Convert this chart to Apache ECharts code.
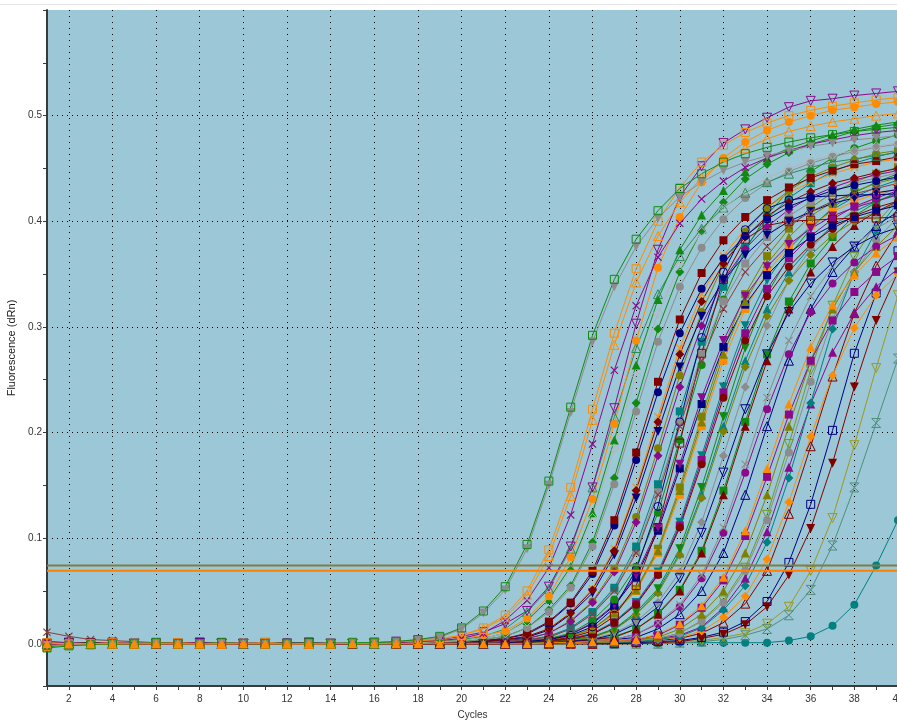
<!DOCTYPE html>
<html>
<head>
<meta charset="utf-8">
<script src="https://cdn.jsdelivr.net/npm/echarts@6/dist/echarts.min.js"></script>
<style>
  html, body { margin: 0; padding: 0; background: #ffffff; }
  #chart { width: 897px; height: 726px; }
</style>
</head>
<body>
<div id="chart"></div>
<script>
// Amplification plot: fluorescence (dRn) per cycle for each well.
const cycles = [1,2,3,4,5,6,7,8,9,10,11,12,13,14,15,16,17,18,19,20,21,22,23,24,25,26,27,28,29,30,31,32,33,34,35,36,37,38,39,40];
const xLabelCycles = [2,4,6,8,10,12,14,16,18,20,22,24,26,28,30,32,34,36,38,40];
const yLabelValues = [0.0,0.1,0.2,0.3,0.4,0.5];
const thresholds = [0.074, 0.069];

const w01 = [-0.004,-0.002,-0.001,0,0,0.001,0,0,0.001,0, 0,0,0.001,0,0.001,0.001,0.002,0.004,0.007,0.015, 0.031,0.054,0.094,0.154,0.224,0.292,0.345,0.383,0.410,0.431, 0.445,0.456,0.464,0.470,0.475,0.479,0.482,0.485,0.487,0.489];
const w02 = [-0.002,-0.001,0,0,0.001,0,0,0,0,0.001, 0,0,0,0.001,0.001,0.001,0.002,0.004,0.006,0.014, 0.029,0.051,0.090,0.150,0.219,0.286,0.338,0.376,0.403,0.423, 0.437,0.448,0.456,0.462,0.467,0.471,0.474,0.477,0.479,0.481];
const w03 = [0.001,0,0,0.001,0,0,0.001,0,0,0, 0.001,0,0,0,0.001,0.001,0.002,0.003,0.005,0.008, 0.015,0.027,0.050,0.089,0.148,0.222,0.294,0.355,0.400,0.432, 0.456,0.472,0.484,0.493,0.500,0.505,0.509,0.512,0.515,0.517];
const w04 = [-0.002,-0.001,0,0,0,0.001,0,0,0,0.001, 0,0,0,0,0.001,0.001,0.002,0.003,0.004,0.008, 0.014,0.025,0.046,0.083,0.140,0.212,0.283,0.342,0.386,0.418, 0.441,0.457,0.469,0.478,0.485,0.490,0.494,0.497,0.500,0.502];
const w05 = [0.002,0.001,0,0,0.001,0,0,0,0,0.001, 0,0,0,0.001,0,0.001,0.001,0.002,0.003,0.005, 0.010,0.022,0.041,0.072,0.122,0.189,0.259,0.320,0.366,0.398, 0.421,0.438,0.451,0.460,0.467,0.473,0.477,0.481,0.484,0.486];
const w06 = [-0.001,0,0,0.001,0,0,0,0.001,0,0, 0,0,0.001,0,0,0.001,0.002,0.003,0.004,0.007, 0.011,0.019,0.031,0.054,0.092,0.148,0.223,0.303,0.373,0.423, 0.452,0.474,0.487,0.498,0.508,0.514,0.516,0.519,0.521,0.523];
const w07 = [0.001,0,0,0,0.001,0,0,0,0.001,0, 0,0,0,0.001,0,0,0.001,0.002,0.003,0.005, 0.008,0.012,0.024,0.045,0.082,0.137,0.208,0.287,0.356,0.404, 0.437,0.460,0.475,0.486,0.494,0.500,0.505,0.508,0.511,0.513];
const w08 = [0,0.001,0,0,0,0.001,0,0,0,0, 0.001,0,0,0,0.001,0,0.001,0.001,0.002,0.003, 0.005,0.010,0.021,0.040,0.070,0.119,0.185,0.254,0.313,0.358, 0.390,0.412,0.429,0.441,0.450,0.457,0.463,0.467,0.471,0.474];
const w09 = [-0.003,-0.001,0,0,0.001,0,0,0,0.001,0, 0,0,0,0.001,0,0,0.001,0.001,0.002,0.003, 0.005,0.010,0.022,0.042,0.073,0.124,0.193,0.264,0.326,0.373, 0.406,0.429,0.447,0.460,0.469,0.476,0.482,0.487,0.491,0.494];
const w10 = [0.001,0,0,0,0,0.001,0,0,0,0.001, 0,0,0,0,0.001,0,0.001,0.001,0.002,0.004, 0.007,0.014,0.030,0.052,0.090,0.148,0.215,0.280,0.331,0.367, 0.393,0.413,0.427,0.437,0.445,0.451,0.456,0.459,0.462,0.465];
const w11 = [-0.001,0,0,0.001,0,0,0,0,0.001,0, 0,0,0.001,0,0,0,0,0.001,0.001,0.002, 0.004,0.007,0.015,0.030,0.053,0.092,0.151,0.220,0.286,0.338, 0.375,0.402,0.422,0.436,0.447,0.455,0.461,0.466,0.470,0.473];
const w12 = [0.002,0.001,0,0,0,0,0.001,0,0,0, 0,0.001,0,0,0,0.001,0,0.001,0.001,0.002, 0.004,0.007,0.015,0.032,0.055,0.096,0.157,0.228,0.298,0.352, 0.391,0.418,0.440,0.454,0.465,0.473,0.479,0.485,0.489,0.492];
const w13 = [0,0.001,0,0,0.001,0,0,0,0,0.001, 0,0,0,0,0,0.001,0,0,0.001,0.002, 0.003,0.005,0.010,0.021,0.039,0.069,0.117,0.181,0.248,0.307, 0.351,0.382,0.404,0.420,0.432,0.441,0.448,0.454,0.457,0.461];
const w14 = [-0.002,-0.001,0,0,0,0.001,0,0,0,0, 0,0.001,0,0,0,0,0.001,0,0.001,0.002, 0.003,0.005,0.009,0.020,0.038,0.066,0.112,0.174,0.238,0.294, 0.336,0.365,0.386,0.402,0.414,0.422,0.429,0.434,0.438,0.442];
const w15 = [0.001,0,0,0,0,0,0.001,0,0,0, 0.001,0,0,0,0,0,0.001,0,0.001,0.001, 0.002,0.004,0.007,0.014,0.029,0.051,0.088,0.145,0.210,0.274, 0.324,0.360,0.385,0.405,0.418,0.428,0.436,0.441,0.446,0.450];
const w16 = [-0.001,0,0,0.001,0,0,0,0.001,0,0, 0,0,0.001,0,0,0,0,0.001,0.001,0.001, 0.002,0.004,0.006,0.013,0.028,0.048,0.084,0.138,0.201,0.262, 0.310,0.344,0.368,0.387,0.400,0.409,0.417,0.422,0.427,0.430];
const w17 = [0,0.001,0,0,0,0.001,0,0,0,0.001, 0,0,0,0,0,0.001,0,0,0,0.001, 0.002,0.003,0.005,0.010,0.021,0.039,0.068,0.115,0.178,0.243, 0.301,0.344,0.374,0.395,0.411,0.423,0.432,0.439,0.444,0.448];
const w18 = [-0.001,0,0,0,0.001,0,0,0,0,0.001, 0,0,0,0.001,0,0,0,0,0.001,0.001, 0.002,0.003,0.005,0.010,0.022,0.040,0.071,0.120,0.185,0.254, 0.314,0.359,0.390,0.413,0.429,0.442,0.451,0.458,0.464,0.467];
const w19 = [0.001,0,0,0,0.001,0,0,0,0,0, 0.001,0,0,0,0.001,0,0,0,0.001,0.001, 0.002,0.004,0.007,0.014,0.030,0.052,0.090,0.148,0.215,0.280, 0.331,0.367,0.393,0.413,0.427,0.437,0.445,0.451,0.456,0.459];
const w20 = [0,0,0.001,0,0,0,0,0.001,0,0, 0,0.001,0,0,0,0,0.001,0,0,0.001, 0.001,0.002,0.004,0.007,0.015,0.030,0.053,0.092,0.151,0.220, 0.286,0.338,0.375,0.402,0.422,0.436,0.447,0.455,0.461,0.466];
const w21 = [-0.002,-0.001,0,0,0,0,0.001,0,0,0, 0,0.001,0,0,0,0,0,0.001,0,0.001, 0.001,0.002,0.004,0.007,0.014,0.029,0.051,0.088,0.145,0.210, 0.274,0.324,0.360,0.385,0.405,0.418,0.428,0.436,0.441,0.446];
const w22 = [0.001,0,0,0,0,0.001,0,0,0,0.001, 0,0,0,0,0.001,0,0,0,0,0, 0.001,0.002,0.003,0.005,0.010,0.022,0.042,0.073,0.124,0.193, 0.264,0.326,0.373,0.406,0.429,0.447,0.460,0.469,0.476,0.482];
const w23 = [0,0,0,0.001,0,0,0,0,0.001,0, 0,0,0.001,0,0,0,0,0.001,0,0, 0.001,0.002,0.003,0.004,0.009,0.020,0.037,0.065,0.110,0.170, 0.233,0.287,0.329,0.357,0.378,0.393,0.405,0.413,0.419,0.425];
const w24 = [0.001,0.001,0,0,0,0,0,0.001,0,0, 0,0,0.001,0,0,0,0,0,0.001,0, 0.001,0.001,0.002,0.004,0.007,0.014,0.029,0.051,0.088,0.145, 0.210,0.274,0.324,0.360,0.385,0.405,0.418,0.428,0.436,0.441];
const w25 = [0,0,0.001,0,0,0,0,0,0.001,0, 0,0,0,0.001,0,0,0,0,0,0.001, 0.001,0.002,0.003,0.004,0.009,0.019,0.036,0.063,0.107,0.166, 0.227,0.281,0.321,0.349,0.370,0.385,0.396,0.404,0.410,0.415];
const w26 = [0.001,0,0,0,0.001,0,0,0,0,0, 0.001,0,0,0,0,0.001,0,0,0,0, 0,0.001,0.002,0.003,0.004,0.009,0.020,0.037,0.065,0.110, 0.170,0.233,0.287,0.329,0.357,0.378,0.393,0.405,0.413,0.419];
const w27 = [-0.001,0,0,0,0,0.001,0,0,0,0, 0,0.001,0,0,0,0,0.001,0,0,0, 0,0.001,0.002,0.003,0.005,0.009,0.020,0.038,0.066,0.112, 0.174,0.238,0.294,0.336,0.365,0.386,0.402,0.414,0.422,0.429];
const w28 = [0,0.001,0,0,0,0,0.001,0,0,0, 0,0,0.001,0,0,0,0,0.001,0,0, 0.001,0.001,0.002,0.004,0.006,0.014,0.028,0.050,0.086,0.141, 0.206,0.268,0.317,0.352,0.376,0.396,0.409,0.419,0.426,0.431];
const w29 = [0,0,0,0.001,0,0,0,0.001,0,0, 0,0,0,0.001,0,0,0,0,0.001,0, 0,0.001,0.002,0.003,0.005,0.010,0.021,0.039,0.068,0.115, 0.178,0.243,0.301,0.344,0.374,0.395,0.411,0.423,0.432,0.439];
const w30 = [-0.001,0,0,0,0.001,0,0,0,0,0.001, 0,0,0,0,0,0.001,0,0,0,0, 0,0.001,0.001,0.002,0.004,0.007,0.014,0.030,0.052,0.090, 0.148,0.215,0.280,0.331,0.367,0.393,0.413,0.427,0.437,0.445];
const w31 = [0.001,0,0,0,0,0,0.001,0,0,0, 0,0.001,0,0,0,0,0,0.001,0,0, 0,0.001,0.001,0.002,0.004,0.006,0.013,0.028,0.048,0.084, 0.138,0.201,0.262,0.310,0.344,0.368,0.387,0.400,0.409,0.417];
const w32 = [0,0.001,0,0,0,0,0,0.001,0,0, 0,0,0.001,0,0,0,0,0,0.001,0, 0,0,0.001,0.002,0.003,0.004,0.009,0.019,0.035,0.062, 0.105,0.162,0.222,0.274,0.314,0.341,0.361,0.376,0.387,0.394];
const w33 = [0.001,0,0,0,0,0.001,0,0,0,0, 0.001,0,0,0,0,0,0.001,0,0,0, 0,0,0.001,0.002,0.003,0.005,0.010,0.021,0.039,0.068, 0.115,0.178,0.243,0.301,0.344,0.374,0.395,0.411,0.423,0.432];
const w34 = [0,0,0.001,0,0,0,0,0,0.001,0, 0,0,0,0.001,0,0,0,0,0,0.001, 0,0,0.001,0.001,0.002,0.004,0.006,0.014,0.028,0.050, 0.086,0.141,0.206,0.268,0.317,0.352,0.376,0.396,0.409,0.419];
const w35 = [-0.002,-0.001,0,0,0,0,0.001,0,0,0, 0,0,0.001,0,0,0,0,0.001,0,0, 0,0,0.001,0.001,0.002,0.004,0.007,0.014,0.029,0.051, 0.088,0.145,0.210,0.274,0.324,0.360,0.385,0.405,0.418,0.428];
const w36 = [0,0,0,0.001,0,0,0,0,0.001,0, 0,0,0,0,0.001,0,0,0,0,0, 0.001,0.001,0.002,0.004,0.007,0.014,0.030,0.052,0.090,0.148, 0.215,0.280,0.331,0.367,0.393,0.413,0.427,0.437,0.445,0.451];
const w37 = [0,0.001,0,0,0,0,0,0.001,0,0, 0,0,0.001,0,0,0,0,0,0,0.001, 0,0.001,0.001,0.002,0.004,0.006,0.014,0.028,0.050,0.086, 0.141,0.206,0.268,0.317,0.352,0.376,0.396,0.409,0.419,0.426];
const w38 = [0,0,0,0.001,0,0,0,0,0,0.001, 0,0,0,0,0.001,0,0,0,0,0, 0.001,0,0,0.001,0.002,0.003,0.004,0.009,0.020,0.037, 0.065,0.110,0.170,0.233,0.287,0.329,0.357,0.378,0.393,0.405];
const w39 = [0.001,0,0,0,0,0,0.001,0,0,0, 0,0,0.001,0,0,0,0,0,0,0.001, 0,0,0,0.001,0.002,0.003,0.004,0.009,0.019,0.035, 0.062,0.105,0.162,0.222,0.274,0.314,0.341,0.361,0.376,0.387];
const w40 = [0,0,0,0,0,0,0,0,0,0, 0,0,0,0,0,0,0,0,0,0, 0,0,0,0.001,0.001,0.002,0.003,0.004,0.009,0.019, 0.036,0.063,0.107,0.166,0.227,0.281,0.321,0.349,0.370,0.385];
const w41 = [0,0.001,0,0,0,0,0,0.001,0,0, 0,0,0,0,0.001,0,0,0,0,0, 0,0.001,0,0,0.001,0.002,0.003,0.004,0.008,0.018, 0.034,0.060,0.102,0.158,0.217,0.268,0.306,0.333,0.352,0.367];
const w42 = [0,0,0,0,0.001,0,0,0,0,0, 0.001,0,0,0,0,0,0.001,0,0,0, 0,0,0,0.001,0.001,0.002,0.004,0.006,0.014,0.028, 0.050,0.086,0.141,0.206,0.268,0.317,0.352,0.376,0.396,0.409];
const w43 = [0.001,0,0,0,0,0,0.001,0,0,0, 0,0,0,0.001,0,0,0,0,0,0.001, 0,0,0,0,0.001,0.001,0.002,0.004,0.006,0.014, 0.028,0.050,0.086,0.141,0.206,0.268,0.317,0.352,0.376,0.396];
const w44 = [0,0,0,0.001,0,0,0,0,0.001,0, 0,0,0,0,0.001,0,0,0,0,0, 0.001,0,0,0,0,0.001,0.002,0.003,0.005,0.010, 0.021,0.039,0.069,0.117,0.181,0.248,0.307,0.351,0.382,0.404];
const w45 = [0,0,0.001,0,0,0,0,0,0.001,0, 0,0,0,0,0,0.001,0,0,0,0, 0,0.001,0,0,0,0.001,0.002,0.003,0.005,0.010, 0.022,0.041,0.072,0.122,0.189,0.259,0.320,0.366,0.398,0.421];
const w46 = [0.001,0,0,0,0,0,0,0.001,0,0, 0,0,0,0,0.001,0,0,0,0,0, 0,0.001,0,0,0,0.001,0.001,0.002,0.004,0.007, 0.015,0.032,0.055,0.096,0.157,0.228,0.298,0.352,0.391,0.418];
const w47 = [0,0,0,0,0.001,0,0,0,0,0, 0,0.001,0,0,0,0,0,0,0.001,0, 0,0,0,0,0,0.001,0.002,0.003,0.005,0.008, 0.016,0.034,0.062,0.106,0.167,0.227,0.276,0.313,0.338,0.355];
const w48 = [0.001,0,0,0,0,0,0,0,0.001,0, 0,0,0,0,0,0,0.001,0,0,0, 0,0,0,0,0,0.001,0.002,0.003,0.004,0.006, 0.012,0.025,0.045,0.080,0.134,0.196,0.254,0.299,0.330,0.350];
const w49 = [0,0,0,0,0,0.001,0,0,0,0, 0,0,0.001,0,0,0,0,0,0,0.001, 0,0,0,0,0,0,0.001,0.002,0.003,0.005, 0.010,0.020,0.038,0.069,0.123,0.187,0.253,0.313,0.358,0.390];
const w50 = [0,0.001,0,0,0,0,0,0,0.001,0, 0,0,0,0,0,0,0.001,0,0,0, 0,0,0,0,0.001,0,0,0.001,0.002,0.003, 0.006,0.011,0.021,0.040,0.077,0.132,0.202,0.275,0.332,0.372];
const w51 = [0,0,0,0,0.001,0,0,0,0,0, 0,0,0,0.001,0,0,0,0,0,0, 0,0,0.001,0,0,0,0,0,0.001,0.002, 0.005,0.009,0.018,0.035,0.065,0.109,0.171,0.243,0.306,0.352];
const w52 = [0,0,0,0.001,0,0,0,0,0,0, 0.001,0,0,0,0,0,0,0,0,0.001, 0,0,0,0,0,0,0,0,0.001,0.002, 0.003,0.006,0.010,0.019,0.035,0.069,0.119,0.188,0.261,0.330];
const w53 = [0,0,0,0,0,0.001,0,0,0,0, 0,0,0,0,0.001,0,0,0,0,0, 0,0,0,0,0.001,0,0,0,0,0.001, 0.002,0.004,0.008,0.014,0.027,0.051,0.093,0.148,0.209,0.270];
const w54 = [0,0,0,0,0,0,0,0,0,0, 0,0,0,0,0,0,0,0,0,0, 0,0,0,0,0,0,0,0.001,0,0.001, 0.001,0.001,0.001,0.001,0.003,0.007,0.017,0.037,0.074,0.117];
const w55 = [0.001,0,0,0,0,0,0.001,0,0,0, 0,0,0,0.001,0,0,0,0,0,0.001, 0,0.001,0.002,0.004,0.008,0.016,0.034,0.070,0.130,0.210, 0.290,0.352,0.392,0.412,0.420,0.423,0.424,0.425,0.425,0.426];
const w56 = [0,0,0.001,0,0,0,0,0,0,0.001, 0,0,0,0,0,0.001,0,0,0,0, 0,0,0.001,0.003,0.006,0.012,0.026,0.055,0.110,0.190, 0.275,0.345,0.383,0.396,0.400,0.401,0.402,0.403,0.403,0.404];
const w57 = [0.011,0.007,0.004,0.003,0.002,0.001,0.001,0.001,0,0, 0,0.001,0,0,0,0,0,0,0.001,0.001, 0.001,0.002,0.004,0.006,0.014,0.028,0.050,0.086,0.141,0.206, 0.268,0.317,0.352,0.376,0.396,0.409,0.419,0.426,0.431,0.436];

// Drawing order (last drawn is on top) with each well's colour and marker.
const GREEN = '#128a12', GREY = '#8c8c8c', ORANGE = '#ff8c00', PURPLE = '#8b0a8b',
      NAVY = '#000080', MAROON = '#800000', OLIVE = '#808000', TEAL = '#008080';
const wells = [
  { data: w54, color: TEAL, shape: 'circle' },
  { data: w53, color: '#4f8f7a', shape: 'hourglass', open: true },
  { data: w52, color: '#9a9a1e', shape: 'triDown', open: true },
  { data: w51, color: MAROON, shape: 'triDown' },
  { data: w50, color: NAVY, shape: 'rect', open: true },
  { data: w49, color: MAROON, shape: 'tri', open: true },
  { data: w48, color: ORANGE, shape: 'diamond' },
  { data: w47, color: PURPLE, shape: 'tri' },
  { data: w46, color: TEAL, shape: 'diamond' },
  { data: w45, color: '#6f9a22', shape: 'triDown', open: true },
  { data: w44, color: GREY, shape: 'circle' },
  { data: w43, color: OLIVE, shape: 'tri' },
  { data: w42, color: NAVY, shape: 'tri', open: true },
  { data: w41, color: PURPLE, shape: 'rect' },
  { data: w39, color: PURPLE, shape: 'circle' },
  { data: w38, color: GREY, shape: 'cross' },
  { data: w37, color: TEAL, shape: 'tri' },
  { data: w36, color: OLIVE, shape: 'rect' },
  { data: w35, color: GREEN, shape: 'rect' },
  { data: w34, color: MAROON, shape: 'tri' },
  { data: w33, color: GREY, shape: 'diamond' },
  { data: w32, color: NAVY, shape: 'triDown', open: true },
  { data: w31, color: OLIVE, shape: 'diamond' },
  { data: w30, color: GREEN, shape: 'triDown' },
  { data: w29, color: TEAL, shape: 'triDown' },
  { data: w28, color: ORANGE, shape: 'rect' },
  { data: w27, color: PURPLE, shape: 'rect' },
  { data: w26, color: MAROON, shape: 'circle' },
  { data: w25, color: NAVY, shape: 'rect' },
  { data: w24, color: OLIVE, shape: 'tri' },
  { data: w23, color: PURPLE, shape: 'triDown' },
  { data: w22, color: GREEN, shape: 'circle' },
  { data: w21, color: GREY, shape: 'rect' },
  { data: w20, color: TEAL, shape: 'rect' },
  { data: w19, color: ORANGE, shape: 'cross' },
  { data: w18, color: OLIVE, shape: 'circle' },
  { data: w17, color: PURPLE, shape: 'diamond' },
  { data: w16, color: NAVY, shape: 'triDown' },
  { data: w15, color: MAROON, shape: 'diamond' },
  { data: w14, color: NAVY, shape: 'circle' },
  { data: w13, color: MAROON, shape: 'rect' },
  { data: w12, color: GREEN, shape: 'diamond' },
  { data: w11, color: GREY, shape: 'circle' },
  { data: w10, color: '#2e8b57', shape: 'tri', open: true },
  { data: w09, color: GREEN, shape: 'tri' },
  { data: w08, color: '#b4b4b4', shape: 'diamond', open: true },
  { data: w55, color: NAVY, shape: 'circle', open: true },
  { data: w56, color: MAROON, shape: 'rect', open: true },
  { data: w57, color: '#8b3c3c', shape: 'cross' },
  { data: w07, color: ORANGE, shape: 'circle' },
  { data: w06, color: PURPLE, shape: 'triDown', open: true },
  { data: w05, color: PURPLE, shape: 'cross' },
  { data: w04, color: ORANGE, shape: 'tri', open: true },
  { data: w03, color: ORANGE, shape: 'rect', open: true },
  { data: w02, color: GREY, shape: 'triDown' },
  { data: w01, color: GREEN, shape: 'rect', open: true },
  { data: w40, color: ORANGE, shape: 'tri' }
];

const shapes = {
  rect:      { symbol: 'rect', size: 8, rotate: 0 },
  circle:    { symbol: 'circle', size: 8, rotate: 0 },
  tri:       { symbol: 'triangle', size: 9, rotate: 0 },
  triDown:   { symbol: 'triangle', size: 9, rotate: 180 },
  diamond:   { symbol: 'diamond', size: 9, rotate: 0 },
  cross:     { symbol: 'path://M1,0L5,4L9,0L10,1L6,5L10,9L9,10L5,6L1,10L0,9L4,5L0,1Z', size: 8, rotate: 0 },
  hourglass: { symbol: 'path://M0,0L10,0L0,10L10,10Z', size: 9, rotate: 0 }
};

const series = wells.map((w) => {
  const s = shapes[w.shape];
  return {
    type: 'line',
    xAxisIndex: 0,
    yAxisIndex: 0,
    data: cycles.map((c, j) => [c, w.data[j]]),
    symbol: s.symbol,
    symbolSize: s.size,
    symbolRotate: s.rotate,
    showSymbol: true,
    lineStyle: { color: w.color, width: 1 },
    itemStyle: w.open
      ? { color: 'rgba(0,0,0,0)', borderColor: w.color, borderWidth: 1 }
      : { color: w.color, borderWidth: 0 },
    emphasis: { disabled: true },
    silent: true,
    z: 2
  };
});

// Threshold lines, one per dye, spanning the full cycle range over the curves.
const thresholdColors = ['#7f7f45', '#ff8000'];
thresholds.forEach((t, i) => {
  series.push({
    type: 'line',
    xAxisIndex: 0,
    yAxisIndex: 0,
    data: [[cycles[0], t], [cycles[cycles.length - 1], t]],
    symbol: 'none',
    showSymbol: false,
    lineStyle: { color: thresholdColors[i], width: 2, type: 'solid' },
    emphasis: { disabled: true },
    silent: true,
    z: 4
  });
});

const axisText = { color: '#333333', fontSize: 10, fontFamily: 'Liberation Sans, Arial, sans-serif' };

const option = {
  animation: false,
  backgroundColor: '#ffffff',
  graphic: [{
    type: 'line',
    shape: { x1: 0, y1: 4.5, x2: 897, y2: 4.5 },
    style: { stroke: '#e6e6e6', lineWidth: 1 },
    silent: true
  }],
  grid: {
    left: 47, top: 10, right: -1, bottom: 40,
    containLabel: false,
    outerBoundsMode: 'none',
    show: true, backgroundColor: '#9cc7d6', borderWidth: 0
  },
  xAxis: [
    {
      type: 'value', min: 1, max: 40, interval: 1, position: 'bottom',
      name: 'Cycles', nameLocation: 'middle', nameGap: 24,
      nameTextStyle: { color: '#333333', fontSize: 10, fontFamily: 'Liberation Sans, Arial, sans-serif' },
      axisLine: { show: true, onZero: false, lineStyle: { color: '#3a3a3a', width: 2 } },
      axisTick: { show: true, length: 4, lineStyle: { color: '#3a3a3a', width: 1 } },
      axisLabel: Object.assign({ margin: 8, formatter: v => xLabelCycles.includes(v) ? String(v) : '' }, axisText),
      splitLine: { show: false }
    },
    {
      type: 'value', min: 1, max: 40, splitNumber: 20, minInterval: 2, maxInterval: 2, position: 'bottom',
      axisLine: { show: false }, axisTick: { show: false }, axisLabel: { show: false },
      splitLine: { show: true, lineStyle: { color: '#000000', width: 1, type: [1, 5] } }
    }
  ],
  yAxis: [
    {
      type: 'value', min: -0.04, max: 0.6, splitNumber: 6, minInterval: 0.1, maxInterval: 0.1, position: 'left',
      name: 'Fluorescence (dRn)', nameLocation: 'middle', nameGap: 27, nameRotate: 90,
      nameTextStyle: { color: '#222222', fontSize: 11, fontFamily: 'Liberation Sans, Arial, sans-serif' },
      axisLine: { show: true, onZero: false, lineStyle: { color: '#3a3a3a', width: 2 } },
      axisTick: { show: false },
      axisLabel: Object.assign({
        margin: 5, showMinLabel: false, showMaxLabel: false,
        formatter: v => {
          const hit = yLabelValues.find(t => Math.abs(t - v) < 1e-9);
          return hit === undefined ? '' : hit.toFixed(1);
        }
      }, axisText),
      splitLine: { show: true, showMinLine: false, showMaxLine: false, lineStyle: { color: '#000000', width: 1, type: [1, 4] } }
    },
    {
      type: 'value', min: -0.04, max: 0.6, splitNumber: 13, minInterval: 0.05, maxInterval: 0.05, position: 'left',
      axisLine: { show: false },
      axisTick: { show: true, length: 4, lineStyle: { color: '#3a3a3a', width: 1 } },
      axisLabel: { show: false },
      splitLine: { show: false }
    }
  ],
  series: series
};

const chart = echarts.init(document.getElementById('chart'), null, { renderer: 'canvas' });
chart.setOption(option);
</script>
</body>
</html>
